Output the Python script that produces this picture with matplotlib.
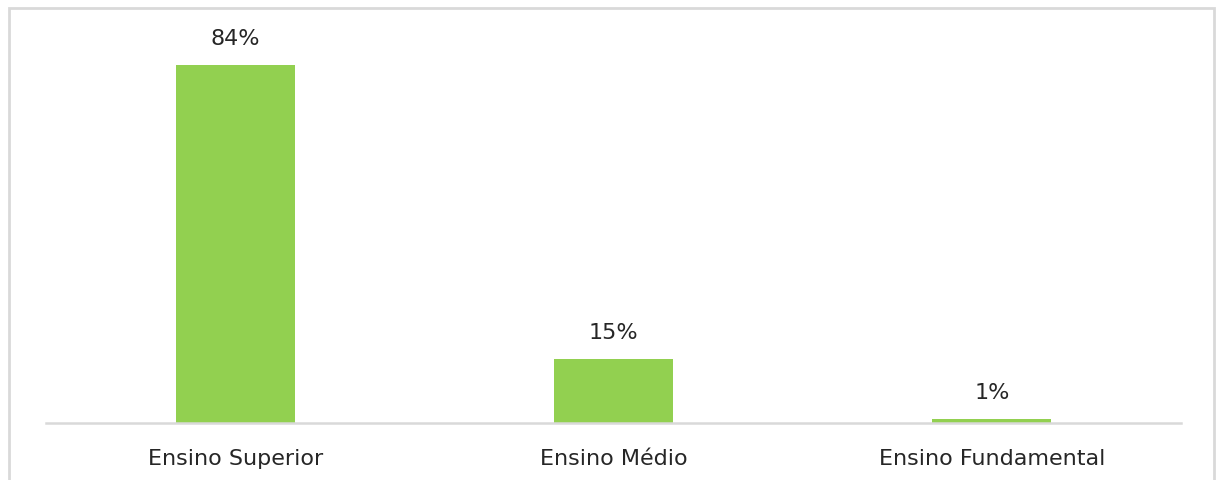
import matplotlib.pyplot as plt
from matplotlib.patches import Rectangle

categories = ['Ensino Superior', 'Ensino Médio', 'Ensino Fundamental']
values = [84, 15, 1]
labels = ['84%', '15%', '1%']

plt.rcParams['font.family'] = ['DejaVu Sans']
text_color = '#262626'
grid_color = '#d9d9d9'

fig = plt.figure(figsize=(12.16, 4.81), dpi=100)
ax = fig.add_axes([46 / 1216, 1 - 424 / 481, (1181 - 46) / 1216, 383.4 / 481])

x = range(len(categories))
bars = ax.bar(x, values, width=0.315, color='#92d050')
ax.set_xlim(-0.5, 2.5)
ax.set_ylim(0, 90)

for b, lab in zip(bars, labels):
    ax.annotate(lab, (b.get_x() + b.get_width() / 2, b.get_height()),
                xytext=(0, 12), textcoords='offset points',
                ha='center', va='bottom', fontsize=16, color=text_color)

ax.set_xticks(list(x))
ax.set_xticklabels(categories, fontsize=16, color=text_color)
ax.tick_params(axis='x', length=0, pad=18)
ax.set_yticks([])
for s in ['top', 'right', 'left']:
    ax.spines[s].set_visible(False)
ax.spines['bottom'].set_color(grid_color)
ax.spines['bottom'].set_linewidth(1.8)

# chart frame
fig.patches.append(Rectangle((9 / 1216, -0.05), 1205 / 1216, 1.05 - 9 / 481,
                             transform=fig.transFigure, fill=False,
                             edgecolor=grid_color, linewidth=2))

fig.savefig('out.png', dpi=100)
